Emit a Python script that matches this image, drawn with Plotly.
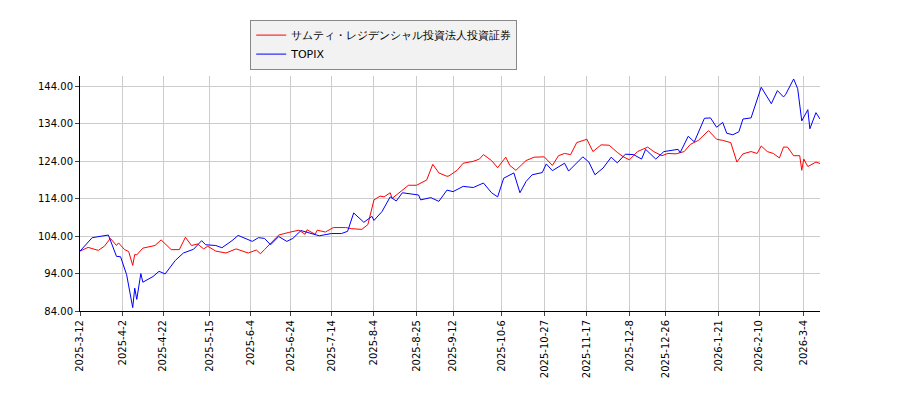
import plotly.graph_objects as go

red_dates = ["2025-03-12","2025-03-16","2025-03-21","2025-03-24","2025-03-27","2025-03-30","2025-03-31","2025-04-03","2025-04-05","2025-04-07","2025-04-08","2025-04-09","2025-04-12","2025-04-18","2025-04-21","2025-04-26","2025-04-30","2025-05-03","2025-05-06","2025-05-09","2025-05-12","2025-05-14","2025-05-18","2025-05-23","2025-05-28","2025-06-03","2025-06-07","2025-06-09","2025-06-11","2025-06-18","2025-06-23","2025-06-28","2025-07-01","2025-07-02","2025-07-06","2025-07-07","2025-07-11","2025-07-15","2025-07-21","2025-07-24","2025-07-29","2025-08-01","2025-08-04","2025-08-07","2025-08-09","2025-08-12","2025-08-13","2025-08-17","2025-08-21","2025-08-25","2025-08-30","2025-09-02","2025-09-05","2025-09-09",
"2025-09-10","2025-09-14","2025-09-17","2025-09-22","2025-09-25","2025-09-27","2025-10-01","2025-10-04","2025-10-08","2025-10-10","2025-10-13","2025-10-18","2025-10-22","2025-10-27","2025-10-31","2025-11-03","2025-11-06","2025-11-09","2025-11-12","2025-11-17","2025-11-20","2025-11-24","2025-11-28","2025-12-02","2025-12-05","2025-12-08","2025-12-12","2025-12-17","2025-12-20","2025-12-24","2025-12-27","2025-12-31","2026-01-04","2026-01-07","2026-01-11","2026-01-16","2026-01-20","2026-01-23","2026-01-27","2026-01-30","2026-02-02","2026-02-06","2026-02-09","2026-02-11","2026-02-14","2026-02-17","2026-02-20","2026-02-22","2026-02-24","2026-02-27","2026-03-02","2026-03-03","2026-03-04","2026-03-06","2026-03-10","2026-03-12"]
red_vals = [100.0,101.0,100.2,101.3,103.4,101.5,102.2,100.4,99.9,96.2,99.1,99.0,100.8,101.5,103.0,100.4,100.4,103.7,101.5,101.9,100.6,101.3,100.0,99.5,100.6,99.5,100.3,99.3,100.4,104.3,105.0,105.6,104.5,105.7,104.5,105.6,105.1,106.3,106.3,106.0,105.8,107.1,113.7,114.7,114.5,115.6,114.1,115.9,117.6,117.6,119.0,123.2,120.9,120.0,
120.1,121.6,123.5,124.0,124.6,125.8,124.2,122.3,125.1,122.9,121.6,124.2,125.1,125.2,122.9,125.5,126.1,125.8,129.0,129.9,126.6,128.4,128.3,126.4,125.2,124.4,126.6,127.8,126.6,125.5,126.1,126.0,126.6,128.5,129.6,132.2,129.9,129.6,129.0,123.8,126.0,126.6,126.1,128.1,126.6,126.1,124.9,127.8,127.8,125.5,125.5,121.6,124.6,122.6,123.8,123.4]

blue_dates = ["2025-03-12","2025-03-18","2025-03-26","2025-03-30","2025-04-01","2025-04-04","2025-04-07","2025-04-08","2025-04-09","2025-04-11","2025-04-12","2025-04-17","2025-04-20","2025-04-23","2025-04-28","2025-05-02","2025-05-07","2025-05-11","2025-05-13","2025-05-18","2025-05-21","2025-05-26","2025-05-29","2025-06-02","2025-06-05","2025-06-08","2025-06-11","2025-06-14","2025-06-18","2025-06-22","2025-06-25","2025-06-29","2025-07-04","2025-07-08","2025-07-14","2025-07-19","2025-07-22","2025-07-25","2025-07-30","2025-08-03","2025-08-04","2025-08-08","2025-08-12","2025-08-15","2025-08-18","2025-08-22","2025-08-26","2025-08-27","2025-09-01","2025-09-05","2025-09-09",
"2025-09-12","2025-09-17","2025-09-22","2025-09-27","2025-10-01","2025-10-04","2025-10-07","2025-10-12","2025-10-15","2025-10-18","2025-10-21","2025-10-26","2025-10-28","2025-10-31","2025-11-06","2025-11-08","2025-11-15","2025-11-18","2025-11-21","2025-11-25","2025-11-29","2025-12-02","2025-12-06","2025-12-10","2025-12-14","2025-12-16","2025-12-21","2025-12-25","2026-01-01","2026-01-02","2026-01-06","2026-01-09","2026-01-14","2026-01-17","2026-01-20","2026-01-23","2026-01-25","2026-01-28","2026-01-31","2026-02-02","2026-02-06","2026-02-11","2026-02-16","2026-02-19","2026-02-22","2026-02-23","2026-02-27","2026-03-01","2026-03-03","2026-03-06","2026-03-07","2026-03-10","2026-03-12"]
blue_vals = [100.0,103.6,104.3,98.6,98.5,93.7,84.9,90.1,87.1,94.0,91.7,93.2,94.6,93.9,97.5,99.5,100.5,102.8,101.7,101.5,100.9,102.8,104.2,103.4,102.6,103.6,103.4,101.7,103.9,102.6,103.4,105.5,104.7,104.1,104.7,104.7,105.3,110.2,107.7,109.3,108.2,110.6,114.5,113.4,115.6,115.4,115.0,113.7,114.3,113.3,116.3,
115.9,117.3,117.0,118.2,115.6,114.5,119.5,120.9,115.6,118.6,120.4,121.0,123.3,121.5,123.5,121.4,125.2,123.8,120.4,122.2,125.1,123.6,125.9,125.8,124.6,127.2,124.6,126.6,127.2,126.3,130.7,129.2,135.5,135.6,133.1,134.4,131.5,131.1,131.9,135.3,135.6,143.8,139.4,142.9,141.2,141.8,146.0,143.4,134.8,137.8,132.7,137.0,135.3]

tick_dates = ["2025-03-12","2025-04-02","2025-04-22","2025-05-15","2025-06-04","2025-06-24","2025-07-14","2025-08-04","2025-08-25","2025-09-12","2025-10-06","2025-10-27","2025-11-17","2025-12-08","2025-12-26","2026-01-21","2026-02-10","2026-03-04"]
tick_text = ["2025-3-12","2025-4-2","2025-4-22","2025-5-15","2025-6-4","2025-6-24","2025-7-14","2025-8-4","2025-8-25","2025-9-12","2025-10-6","2025-10-27","2025-11-17","2025-12-8","2025-12-26","2026-1-21","2026-2-10","2026-3-4"]
y_ticks = [84, 94, 104, 114, 124, 134, 144]

fig = go.Figure()
fig.add_trace(go.Scatter(x=red_dates, y=red_vals, mode="lines", name="サムティ・レジデンシャル投資法人投資証券",
                         line=dict(color="#ff0000", width=1)))
fig.add_trace(go.Scatter(x=blue_dates, y=blue_vals, mode="lines", name="TOPIX",
                         line=dict(color="#0000ff", width=1)))
fig.update_layout(
    width=900, height=400, margin=dict(l=72, r=88, t=63, b=97),
    plot_bgcolor="white", paper_bgcolor="white",
    font=dict(family="DejaVu Sans", size=10, color="black"),
    legend=dict(x=0.23, y=1.24, xanchor="left", yanchor="top", bgcolor="#f2f2f2",
                bordercolor="#888", borderwidth=1, font=dict(size=11), tracegroupgap=0),
    xaxis=dict(type="date", range=["2025-03-12", "2026-03-12"], tickvals=tick_dates, ticktext=tick_text,
               tickangle=-90, showgrid=True, gridcolor="#cccccc", showline=True, linecolor="black",
               ticks="outside", ticklen=4, zeroline=False),
    yaxis=dict(range=[84, 146.8], tickvals=y_ticks, ticktext=[f"{v:.2f}" for v in y_ticks],
               showgrid=True, gridcolor="#cccccc", showline=True, linecolor="black",
               ticks="outside", ticklen=4, zeroline=False),
)
fig.write_html("out.html")
